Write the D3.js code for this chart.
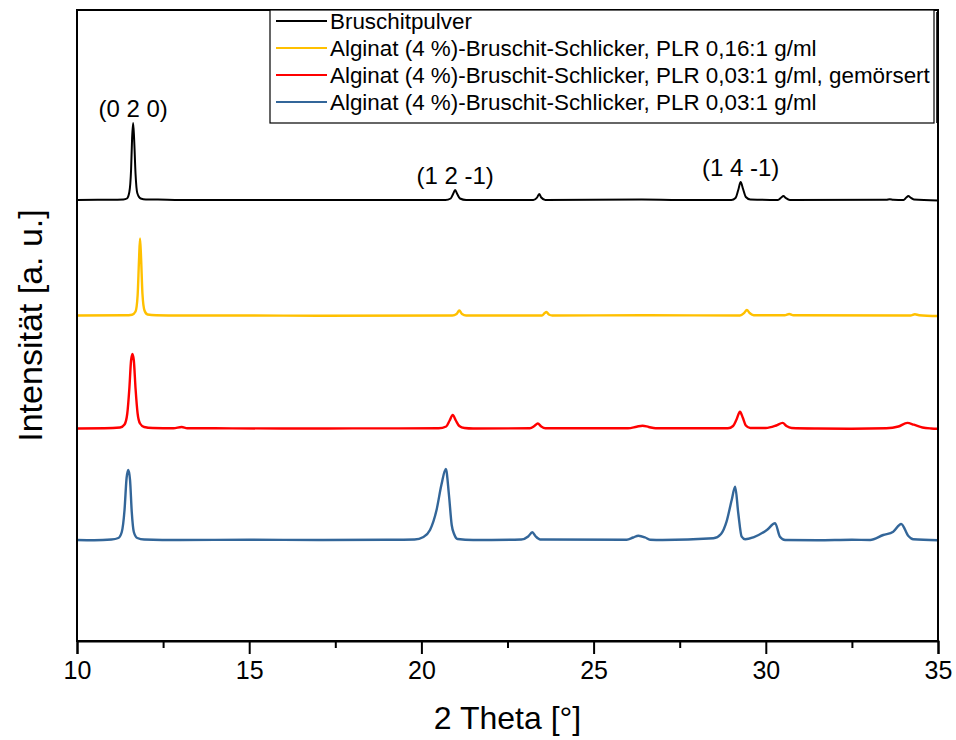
<!DOCTYPE html>
<html>
<head>
<meta charset="utf-8">
<script src="https://cdn.jsdelivr.net/npm/d3@7"></script>
<style>
  html, body { margin: 0; padding: 0; background: #fff; }
  svg { display: block; font-family: "Liberation Sans", Arial, sans-serif; }
</style>
</head>
<body>
<svg id="chart" width="956" height="740"></svg>
<script>
// XRD patterns: [2θ (°), intensity above the pattern's own baseline (counts)]
const bruschitpulver = [
  [10.0, 0], [10.6, 2], [11.0, 2], [11.35, 5], [11.45, 15], [11.52, 80], [11.57, 300],
  [11.60, 620], [11.63, 770], [11.66, 600], [11.70, 260], [11.75, 70], [11.85, 15],
  [12.0, 5], [12.35, 4], [13.0, 0], [15.0, 1], [17.5, 0], [20.0, 1], [20.7, 0],
  [20.85, 15], [20.92, 60], [20.98, 100], [21.04, 60], [21.12, 15], [21.3, 0],
  [23.25, 0], [23.36, 25], [23.42, 60], [23.48, 25], [23.6, 0], [26.4, 4], [27.5, 0],
  [29.0, 0], [29.12, 20], [29.2, 100], [29.27, 180], [29.34, 110], [29.42, 30],
  [29.55, 5], [30.35, 0], [30.45, 25], [30.51, 40], [30.58, 20], [30.7, 0],
  [33.5, 3], [33.6, 8], [33.7, 2], [34.0, 0], [34.08, 25], [34.14, 40], [34.2, 25],
  [34.3, 5], [35.0, -5]
];

const schlicker016 = [
  [10.0, 0], [11.4, 2], [11.6, 8], [11.7, 40], [11.76, 200], [11.80, 550], [11.83, 770],
  [11.86, 580], [11.90, 220], [11.96, 50], [12.05, 10], [12.3, 3], [13.0, 0], [15.0, 0],
  [17.0, -2], [20.9, 0], [21.02, 15], [21.1, 50], [21.18, 15], [21.3, 0], [23.5, 0],
  [23.58, 25], [23.63, 35], [23.7, 10], [23.8, 0], [26.4, 3], [26.6, 3], [29.25, 0],
  [29.37, 25], [29.45, 55], [29.53, 25], [29.65, 3], [30.55, 2], [30.68, 15], [30.8, 3],
  [34.2, 0], [34.33, 12], [34.45, 3], [35.0, -5]
];

const schlicker003Gem = [
  [10.0, 0], [10.8, 2], [11.25, 10], [11.38, 40], [11.46, 150], [11.52, 400],
  [11.57, 680], [11.61, 745], [11.65, 680], [11.70, 400], [11.76, 150], [11.83, 50],
  [11.95, 15], [12.2, 5], [12.8, 2], [13.04, 15], [13.2, 3], [14.0, 2], [16.0, 0],
  [18.0, 1], [20.5, 2], [20.72, 20], [20.82, 80], [20.91, 135], [21.0, 80], [21.1, 25],
  [21.25, 5], [21.5, 0], [23.15, 2], [23.28, 25], [23.38, 50], [23.48, 20], [23.6, 3],
  [26.0, 3], [26.25, 18], [26.42, 28], [26.6, 15], [26.8, 2], [28.9, 2], [29.05, 25],
  [29.15, 90], [29.25, 167], [29.33, 110], [29.42, 30], [29.55, 5], [30.0, 5],
  [30.3, 30], [30.49, 56], [30.6, 25], [30.75, 5], [31.5, 0], [32.5, -2], [33.5, 2],
  [33.85, 20], [34.11, 56], [34.3, 38], [34.55, 10], [34.8, 0], [35.0, -3]
];

const schlicker003 = [
  [10.0, 0], [10.5, -2], [11.0, 5], [11.2, 20], [11.3, 80], [11.38, 300], [11.44, 620],
  [11.49, 700], [11.54, 600], [11.59, 280], [11.65, 80], [11.75, 20], [11.95, 5],
  [13.0, 0], [15.0, 2], [17.0, 0], [19.0, 2], [19.8, 5], [20.06, 30], [20.25, 100],
  [20.44, 300], [20.58, 550], [20.71, 710], [20.8, 450], [20.88, 150], [20.95, 60],
  [21.05, 10], [21.5, 0], [22.9, 5], [23.1, 35], [23.22, 77], [23.32, 35], [23.45, 5],
  [25.96, 3], [26.15, 25], [26.3, 43], [26.5, 25], [26.64, 3], [27.0, 0], [28.48, 17],
  [28.7, 60], [28.86, 183], [29.01, 400], [29.11, 533], [29.2, 270], [29.3, 33],
  [29.4, 7], [29.64, 27], [30.03, 100], [30.27, 167], [30.41, 33], [30.56, 0],
  [31.5, -3], [32.5, 2], [33.03, 0], [33.41, 50], [33.7, 83], [33.93, 160],
  [34.14, 40], [34.28, 7], [35.0, -2]
];

// stacking: each pattern is shifted upward by its offset
const seriesNames = [
  "Bruschitpulver",
  "Alginat (4 %)-Bruschit-Schlicker, PLR 0,16:1 g/ml",
  "Alginat (4 %)-Bruschit-Schlicker, PLR 0,03:1 g/ml, gemörsert",
  "Alginat (4 %)-Bruschit-Schlicker, PLR 0,03:1 g/ml"
];
const seriesData = [bruschitpulver, schlicker016, schlicker003Gem, schlicker003];
const seriesOffsets = [4410, 3255, 2125, 1010];
const seriesColors = ["#000000", "#FFC000", "#FF0000", "#336699"];

// Miller indices of the labelled reflections of the powder
const reflectionLabels = ["(0 2 0)", "(1 2 -1)", "(1 4 -1)"];
const reflectionPos = [11.63, 20.98, 29.27];
const reflectionHeight = [770, 100, 180];

const xTicks = [10, 15, 20, 25, 30, 35];
const xMinorTicks = [12.5, 17.5, 22.5, 27.5, 32.5];

(function draw() {
  const svg = d3.select("#chart");
  const mLeft = 77, mRight = 938, mTop = 10, mBottom = 641;

  const x = d3.scaleLinear().domain([10, 35]).range([mLeft, mRight]);
  const y = d3.scaleLinear().domain([0, 6310]).range([mBottom, mTop]);

  // patterns
  const line = d3.line()
    .x(d => x(d[0]))
    .y(d => y(d[1]))
    .curve(d3.curveMonotoneX);

  const plot = svg.append("g");
  // bottom-most pattern first
  for (let i = seriesData.length - 1; i >= 0; i--) {
    const off = seriesOffsets[i];
    plot.append("path")
      .datum(seriesData[i].map(p => [p[0], p[1] + off]))
      .attr("fill", "none")
      .attr("stroke", seriesColors[i])
      .attr("stroke-width", i === 0 ? 2 : 2.4)
      .attr("stroke-linejoin", "round")
      .attr("d", line);
  }

  // reflection labels above the powder peaks
  svg.append("g").selectAll("text")
    .data(reflectionLabels)
    .join("text")
    .attr("x", (d, i) => x(reflectionPos[i]))
    .attr("y", (d, i) => y(seriesOffsets[0] + reflectionHeight[i]) - 6)
    .attr("text-anchor", "middle")
    .attr("font-size", 24)
    .attr("fill", "#000")
    .text(d => d);

  // frame
  svg.append("rect")
    .attr("x", mLeft).attr("y", mTop)
    .attr("width", mRight - mLeft).attr("height", mBottom - mTop)
    .attr("fill", "none").attr("stroke", "#000").attr("stroke-width", 2);

  // x axis
  const xAxis = d3.axisBottom(x)
    .tickValues(xTicks)
    .tickSize(13)
    .tickPadding(7)
    .tickFormat(d3.format("d"));
  const gx = svg.append("g").attr("transform", `translate(0,${mBottom})`).call(xAxis);
  gx.select(".domain").attr("stroke-width", 2);
  gx.selectAll(".tick line").attr("stroke-width", 2);
  gx.selectAll(".tick text")
    .attr("font-size", 25)
    .attr("font-family", "'Liberation Sans', Arial, sans-serif")
    .attr("fill", "#000");

  const xAxisMinor = d3.axisBottom(x).tickValues(xMinorTicks).tickSize(7).tickFormat("");
  const gxm = svg.append("g").attr("transform", `translate(0,${mBottom})`).call(xAxisMinor);
  gxm.select(".domain").remove();
  gxm.selectAll(".tick line").attr("stroke-width", 2);

  // axis titles
  svg.append("text")
    .attr("x", (mLeft + mRight) / 2)
    .attr("y", 729)
    .attr("text-anchor", "middle")
    .attr("font-size", 32)
    .attr("fill", "#000")
    .text("2 Theta [°]");

  svg.append("text")
    .attr("transform", `translate(42,${(mTop + mBottom) / 2}) rotate(-90)`)
    .attr("text-anchor", "middle")
    .attr("font-size", 34)
    .attr("fill", "#000")
    .text("Intensität [a. u.]");

  // legend
  const lgX = 270, lgY = 10, lgW = 664, lgH = 113, rowH = 27;
  const legend = svg.append("g");
  legend.append("rect")
    .attr("x", lgX).attr("y", lgY).attr("width", lgW).attr("height", lgH)
    .attr("fill", "#fff").attr("stroke", "#000").attr("stroke-width", 1.2);
  legend.append("line")
    .attr("x1", lgX + lgW + 2.5).attr("x2", lgX + lgW + 2.5)
    .attr("y1", lgY + 2).attr("y2", lgY + lgH)
    .attr("stroke", "#000").attr("stroke-width", 0.8);
  const rows = legend.selectAll("g.row")
    .data(seriesNames)
    .join("g")
    .attr("class", "row")
    .attr("transform", (d, i) => `translate(${lgX},${lgY + 11 + i * rowH})`);
  rows.append("line")
    .attr("x1", 6).attr("x2", 57)
    .attr("stroke", (d, i) => seriesColors[i])
    .attr("stroke-width", 2.2);
  rows.append("text")
    .attr("x", 60)
    .attr("dy", "0.35em")
    .attr("font-size", 22.4)
    .attr("fill", "#000")
    .text(d => d);
})();
</script>
</body>
</html>
